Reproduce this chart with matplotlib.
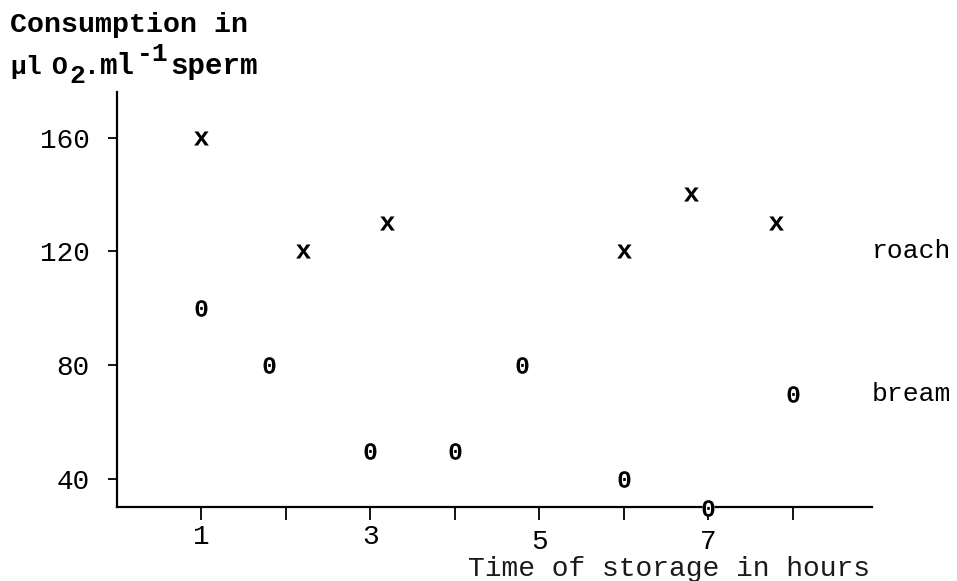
import matplotlib
matplotlib.use("Agg")
import matplotlib.pyplot as plt
from matplotlib.textpath import TextPath
from matplotlib.font_manager import FontProperties
from matplotlib.path import Path
from matplotlib.transforms import blended_transform_factory

# ---- data ----
roach_x = [1, 2.2, 3.2, 6, 6.8, 7.8]
roach_y = [160, 120, 130, 120, 140, 130]
bream_x = [1, 1.8, 3, 4, 4.8, 6, 7, 8]
bream_y = [100, 80, 50, 50, 80, 40, 30, 70]
x_ticks = [1, 2, 3, 4, 5, 6, 7, 8]
x_ticklabels = ["1", "", "3", "", "5", "", "7", ""]
y_ticks = [40, 80, 120, 160]
series_labels = ["roach", "bream"]
series_label_y = [120, 70]
x_title = "Time of storage in hours"
y_title_line1 = "Consumption in"

plt.rcParams['font.family'] = ['Liberation Mono', 'DejaVu Sans Mono']

W, H = 957, 581
fp = FontProperties(family='Liberation Mono', weight='bold')

def glyph_marker(ch):
    tp = TextPath((0, 0), ch, prop=fp, size=10)
    v = tp.vertices.copy()
    ext = tp.get_extents()
    v[:, 0] -= (ext.x0 + ext.x1) / 2
    v[:, 1] -= (ext.y0 + ext.y1) / 2
    return Path(v, tp.codes)

mx = glyph_marker('x')
m0 = glyph_marker('0')

fig = plt.figure(figsize=(W/100, H/100), dpi=100)
ax = fig.add_axes([117/W, 1-507/H, (872-117)/W, (507-92)/H])

ax.set_xlim(0, 8.94)
ax.set_ylim(30.2, 176)

for s in ['top', 'right']:
    ax.spines[s].set_visible(False)
for s in ['left', 'bottom']:
    ax.spines[s].set_linewidth(1.6)

ax.plot(roach_x, roach_y, linestyle='none', marker=mx, markersize=11.5,
        color='black', markeredgewidth=0, clip_on=False, zorder=3)
# white backing so the axis line is interrupted behind the '0' glyphs
ax.plot(bream_x, bream_y, linestyle='none', marker='o', markersize=9,
        color='white', markeredgewidth=0, clip_on=False, zorder=2.9)
ax.plot(bream_x, bream_y, linestyle='none', marker=m0, markersize=12,
        color='black', markeredgewidth=0, clip_on=False, zorder=3)

ax.set_xticks(x_ticks)
ax.set_xticklabels(x_ticklabels)
ax.set_yticks(y_ticks)
ax.tick_params(axis='x', direction='out', length=9.5, width=1.3, pad=3, labelsize=20)
ax.tick_params(axis='y', direction='out', length=6.5, width=1.3, pad=13, labelsize=20)
# typewritten labels "5" and "7" sit a little lower
for i, t in enumerate(ax.xaxis.get_major_ticks()):
    if i >= 4:
        t.set_pad(6)

trans = blended_transform_factory(ax.transAxes, ax.transData)
for lab, yv in zip(series_labels, series_label_y):
    ax.text(1.0, yv, lab, transform=trans, ha='left', va='center',
            fontsize=19, clip_on=False)

fig.text(870/W, 1-576/H, x_title, ha='right', va='baseline',
         fontsize=20.2, color='#1a1a1a')
fig.text(10/W, 1-32/H, y_title_line1, ha='left', va='baseline',
         fontsize=20.3, fontweight='bold')

# second line of the y title, typed piece by piece (sub/superscripts full size)
pieces = [("µl", 10, 74, 19), ("O", 51, 74, 19), ("2", 69, 83, 19),
          (".", 84, 74, 19), ("ml", 100, 74, 21), ("-1", 137, 61, 19),
          ("sperm", 170, 74, 21)]
for txt, px, py, fs in pieces:
    fig.text(px/W, 1-py/H, txt, ha='left', va='baseline',
             fontsize=fs, fontweight='bold')

fig.savefig("out.png", dpi=100)
